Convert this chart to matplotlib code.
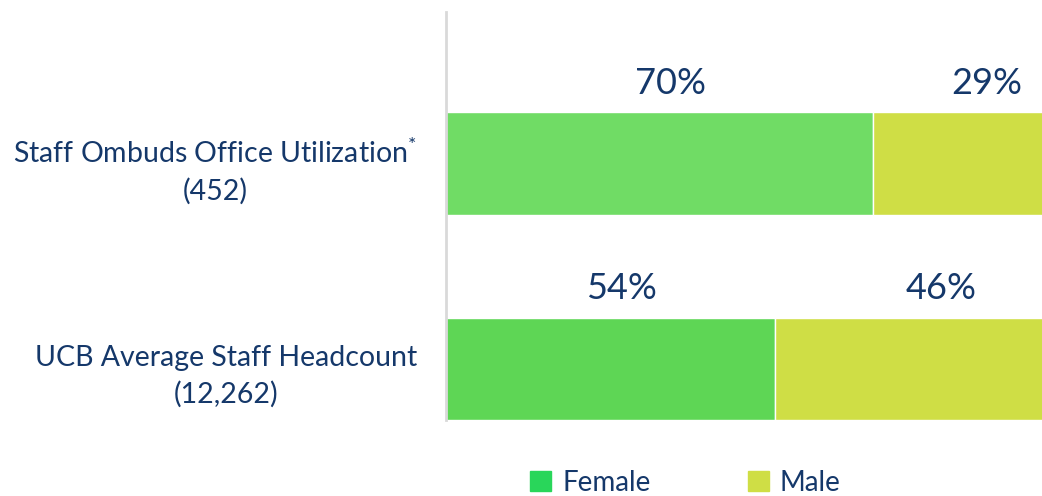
import matplotlib.pyplot as plt
from matplotlib.patches import Patch

plt.rcParams['font.family'] = ['Lato', 'DejaVu Sans']
plt.rcParams['mathtext.fontset'] = 'custom'
plt.rcParams['mathtext.rm'] = 'Lato'

categories = ['UCB Average Staff Headcount\n(12,262)',
              'Staff Ombuds Office Utilization$^{*}$\n(452)']
female = [54, 70]
male = [46, 29]
female_colors = ['#5ed655', '#70dc65']
male_color = '#cfde45'
legend_female = '#29d65a'
text_color = '#15386a'

fig = plt.figure(figsize=(10.42, 4.96), dpi=100)
ax = fig.add_axes([0.428, 0.153, 0.572, 0.823])

y = range(len(categories))
ax.barh(y, female, height=0.5, color=female_colors, edgecolor='white', linewidth=1)
ax.barh(y, male, left=female, height=0.5, color=male_color, edgecolor='white', linewidth=1)

for i in y:
    ax.annotate(f'{female[i]}%', (female[i] / 2, i + 0.25), xytext=(8, 9),
                textcoords='offset points', ha='center', va='bottom',
                fontsize=26, color=text_color)
    ax.annotate(f'{male[i]}%', (female[i] + male[i] / 2, i + 0.25), xytext=(18, 9),
                textcoords='offset points', ha='center', va='bottom',
                fontsize=26, color=text_color)

ax.set_xlim(0, 97.7)
ax.set_ylim(-0.25, 1.74)
ax.set_yticks(list(y))
ax.set_yticklabels(categories, fontsize=20.5, color=text_color,
                   multialignment='center', linespacing=1.45)
ax.tick_params(axis='y', length=0, pad=21)
ax.set_xticks([])
for s in ['top', 'right', 'bottom']:
    ax.spines[s].set_visible(False)
ax.spines['left'].set_color('#d9d9d9')
ax.spines['left'].set_linewidth(2)

handles = [Patch(color=legend_female, label='Female'), Patch(color=male_color, label='Male')]
fig.legend(handles=handles, loc='lower center', bbox_to_anchor=(0.658, -0.05), ncol=2,
           frameon=False, fontsize=20, labelcolor=text_color, handlelength=0.75,
           handleheight=0.75, handletextpad=0.4, columnspacing=3.5)

fig.savefig('out.png', dpi=100)
